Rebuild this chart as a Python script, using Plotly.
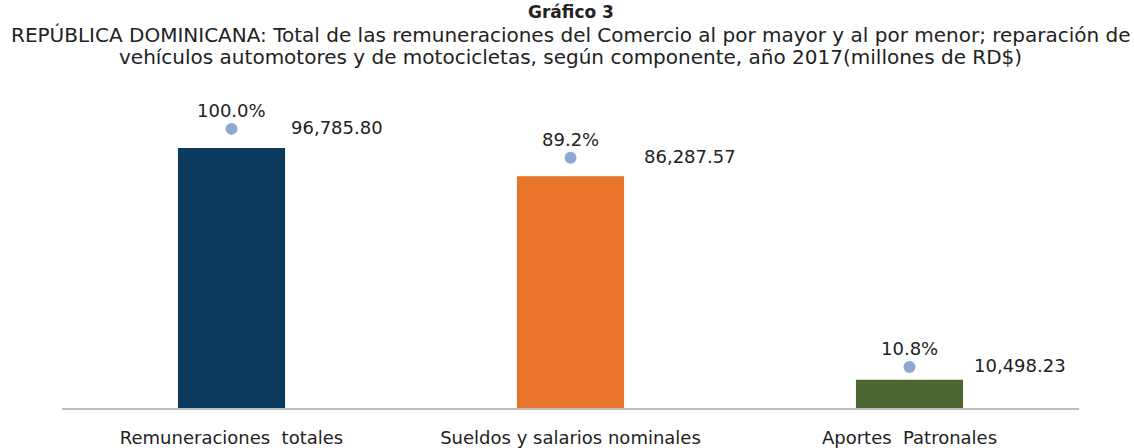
import plotly.graph_objects as go

categories = ["Remuneraciones  totales", "Sueldos y salarios nominales", "Aportes  Patronales"]
values = [96785.80, 86287.57, 10498.23]
percents = [100.0, 89.2, 10.8]
bar_colors = ["#0C3A5F", "#E8732A", "#4B6631"]

title_text = "Gráfico 3"
subtitle_lines = [
    "REPÚBLICA DOMINICANA: Total de las remuneraciones del Comercio al por mayor y al por menor; reparación de",
    "vehículos automotores y de motocicletas, según componente, año 2017(millones de RD$)",
]

FONT = "DejaVu Sans, Verdana, sans-serif"
TXT = "#222222"

PLOT_TOP, PLOT_BOTTOM = 115, 408
def paper_y(px):
    return (PLOT_BOTTOM - px) / (PLOT_BOTTOM - PLOT_TOP)

fig = go.Figure()
fig.add_trace(go.Bar(x=categories, y=values, marker=dict(color=bar_colors, line=dict(width=0)),
                     yaxis="y", showlegend=False, hoverinfo="skip"))
fig.add_trace(go.Scatter(x=categories, y=percents, mode="markers",
                         marker=dict(color="#8EA9D1", size=12), cliponaxis=False,
                         yaxis="y2", showlegend=False, hoverinfo="skip"))

value_shifts = [57, 71, 62]
for c, v, p, s in zip(categories, values, percents, value_shifts):
    fig.add_annotation(x=c, y=p, xref="x", yref="y2", text=f"{v:,.2f}", showarrow=False,
                       xanchor="left", yanchor="middle", xshift=s, yshift=1,
                       font=dict(family=FONT, size=18, color=TXT))
    fig.add_annotation(x=c, y=p, xref="x", yref="y2", text=f"{p:.1f}%", showarrow=False,
                       xanchor="center", yanchor="middle", yshift=18,
                       font=dict(family=FONT, size=18, color=TXT))

fig.add_annotation(x=0.5, y=paper_y(12), xref="paper", yref="paper", text=f"<b>{title_text}</b>",
                   showarrow=False, xanchor="center", yanchor="middle",
                   font=dict(family=FONT, size=17, color=TXT))
for i, line in enumerate(subtitle_lines):
    fig.add_annotation(x=0.5, y=paper_y(34.5 + 22.5 * i), xref="paper", yref="paper", text=line,
                       showarrow=False, xanchor="center", yanchor="middle",
                       font=dict(family=FONT, size=20, color=TXT))

fig.update_layout(
    width=1134, height=448,
    margin=dict(l=62, r=55, t=PLOT_TOP, b=448 - PLOT_BOTTOM, autoexpand=False),
    paper_bgcolor="white", plot_bgcolor="white",
    bargap=0.684,
    xaxis=dict(showgrid=False, showline=True, linecolor="#BFBFBF", linewidth=2,
               ticks="outside", ticklen=12, tickcolor="rgba(0,0,0,0)",
               tickfont=dict(family=FONT, size=18, color=TXT)),
    yaxis=dict(range=[0, 109100], visible=False, showgrid=False),
    yaxis2=dict(range=[-4.57, 105.2], overlaying="y", visible=False, showgrid=False),
)

fig.write_html("out.html", config={"displayModeBar": False},
               post_script="document.body.style.margin='0';document.body.style.overflow='hidden';")
